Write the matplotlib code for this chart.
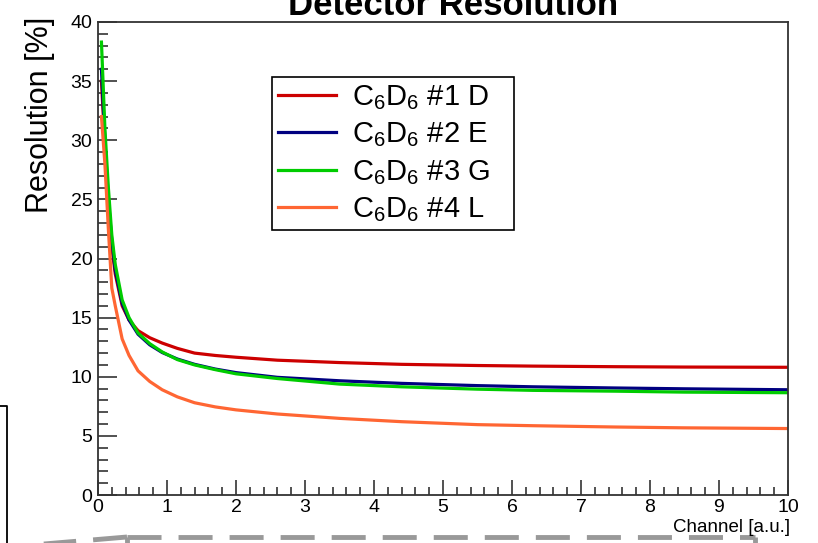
import numpy as np
import matplotlib.pyplot as plt
from matplotlib.lines import Line2D
from matplotlib.ticker import MultipleLocator

plt.rcParams['font.family'] = ['Liberation Sans', 'DejaVu Sans']
plt.rcParams['mathtext.default'] = 'regular'

# resolution curves vs channel
channel = [0.05, 0.1, 0.15, 0.2, 0.25, 0.35, 0.45, 0.58, 0.75, 0.93, 1.15, 1.4, 1.7, 2.0, 2.6, 3.5, 4.4, 5.5, 6.3, 7.5, 8.5, 10]
res_d = [35, 29.5, 24.5, 21, 18.7, 16, 14.8, 13.9, 13.3, 12.85, 12.4, 12.0, 11.8, 11.65, 11.4, 11.2, 11.05, 10.95, 10.9, 10.85, 10.82, 10.8]
res_e = [36, 30, 25, 21.5, 19, 16.2, 14.8, 13.6, 12.7, 12.05, 11.5, 11.05, 10.65, 10.35, 9.95, 9.66, 9.44, 9.25, 9.15, 9.05, 8.98, 8.9]
res_g = [38.3, 31, 26, 22, 19.5, 16.5, 15, 13.7, 12.8, 12.1, 11.45, 11.0, 10.6, 10.25, 9.85, 9.38, 9.15, 8.95, 8.85, 8.78, 8.7, 8.65]
res_l = [32, 28, 22.5, 17.5, 16, 13.2, 11.8, 10.5, 9.6, 8.9, 8.3, 7.8, 7.45, 7.2, 6.85, 6.48, 6.2, 5.95, 5.86, 5.75, 5.68, 5.62]

labels = [r'C$_6$D$_6$ #1 D   ', r'C$_6$D$_6$ #2 E   ', r'C$_6$D$_6$ #3 G   ', r'C$_6$D$_6$ #4 L   ']
colors = ['#cc0000', '#000080', '#00cc00', '#ff6633']

W, H = 818, 543
fig = plt.figure(figsize=(W/100, H/100), dpi=100)
ax = fig.add_axes([98/W, 1-495/H, 690/W, 473/H])

for y, c, lab in zip([res_d, res_e, res_g, res_l], colors, labels):
    ax.plot(channel, y, color=c, lw=2.3, label=lab)

ax.set_xlim(0, 10)
ax.set_ylim(0, 40)
ax.xaxis.set_major_locator(MultipleLocator(1))
ax.xaxis.set_minor_locator(MultipleLocator(0.2))
ax.yaxis.set_major_locator(MultipleLocator(5))
ax.yaxis.set_minor_locator(MultipleLocator(1))
ax.tick_params(which='both', direction='in', top=False, right=False, labelsize=14, color='#333333', width=1.2)
ax.tick_params(axis='y', which='major', length=14, pad=4)
ax.tick_params(axis='y', which='minor', length=7)
ax.tick_params(axis='x', which='major', length=11, pad=3)
ax.tick_params(axis='x', which='minor', length=6)
for s in ax.spines.values():
    s.set_linewidth(1.3)
    s.set_color('#333333')

fig.text(40/W, 1-115/H, 'Resolution [%]', rotation=90, fontsize=22, ha='center', va='center')
fig.text(790/W, 1-527/H, 'Channel [a.u.]', fontsize=13.5, ha='right', va='center')
fig.text(453/W, 1-15/H, 'Detector Resolution', fontsize=25, fontweight='bold', ha='center', va='baseline')

leg = ax.legend(loc='upper left', bbox_to_anchor=(272/W, 1-77/H), bbox_transform=fig.transFigure,
                fontsize=21, frameon=True, fancybox=False, edgecolor='black', framealpha=1,
                handlelength=2.0, handletextpad=0.55, labelspacing=0.3, borderpad=0.2,
                borderaxespad=0)
leg.get_frame().set_linewidth(1.2)

# leftover frame pieces around the plot
def px_line(xs, ys, **kw):
    fig.add_artist(Line2D([x/W for x in xs], [1-y/H for y in ys], transform=fig.transFigure, **kw))

px_line([0, 7, 7], [406, 406, 545], color='black', lw=1.3)
gray = dict(color='#999999', lw=3.5, linestyle=(0, (7, 3.5)))
px_line([127, 755], [537, 537], **gray)
px_line([127, 127], [537, 546], **gray)
px_line([755, 755], [537, 546], **gray)
px_line([127, 20], [537, 546], **gray)

fig.savefig('out.png', dpi=100)
